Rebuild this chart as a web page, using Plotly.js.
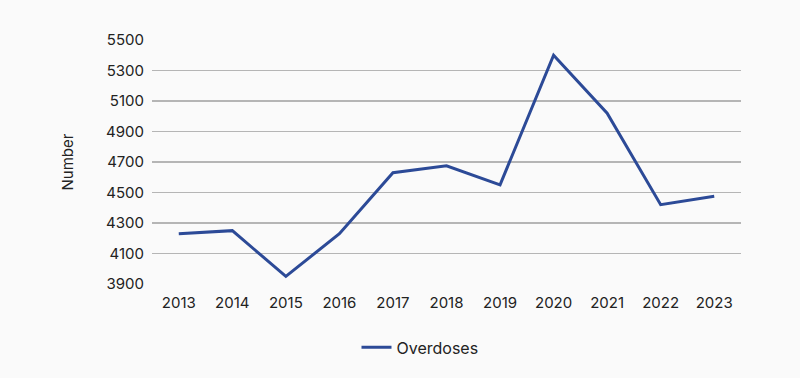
<!DOCTYPE html>
<html>
<head>
<meta charset="utf-8">
<script src="https://cdn.plot.ly/plotly-3.0.1.min.js"></script>
<style>html,body{margin:0;padding:0;background:#fafafa;}#chart{width:800px;height:378px;}</style>
</head>
<body>
<div id="chart"></div>
<script>
var years = ['2013','2014','2015','2016','2017','2018','2019','2020','2021','2022','2023'];
var overdoses = [4230, 4250, 3950, 4230, 4630, 4675, 4550, 5400, 5020, 4420, 4475];
var yTicks = [3900, 4100, 4300, 4500, 4700, 4900, 5100, 5300, 5500];

var trace = {
  x: years,
  y: overdoses,
  type: 'scatter',
  mode: 'lines',
  name: 'Overdoses',
  line: {color: '#2c4a97', width: 3}
};

var layout = {
  width: 800,
  height: 378,
  paper_bgcolor: '#fafafa',
  plot_bgcolor: '#fafafa',
  font: {family: 'Inter, "Noto Sans", sans-serif', size: 15, color: '#222'},
  margin: {l: 152, r: 59, t: 40, b: 94},
  showlegend: true,
  legend: {orientation: 'h', x: 0.455, xanchor: 'center', y: -0.19, yanchor: 'top', font: {size: 16, color: '#222'}},
  xaxis: {
    type: 'category',
    range: [-0.5, 10.5],
    showgrid: false,
    zeroline: false,
    showline: false,
    ticks: '',
    ticklabelstandoff: 8,
    tickfont: {size: 15}
  },
  yaxis: {
    range: [3900, 5500],
    tickvals: yTicks,
    ticktext: yTicks.map(String),
    showgrid: true,
    gridcolor: '#b5b5b5',
    gridwidth: 1.5,
    zeroline: false,
    showline: false,
    ticks: '',
    ticklabelstandoff: 7,
    tickfont: {size: 15},
    title: {text: 'Number', font: {size: 15}, standoff: 28}
  }
};

Plotly.newPlot('chart', [trace], layout, {displayModeBar: false, staticPlot: true});
</script>
</body>
</html>
